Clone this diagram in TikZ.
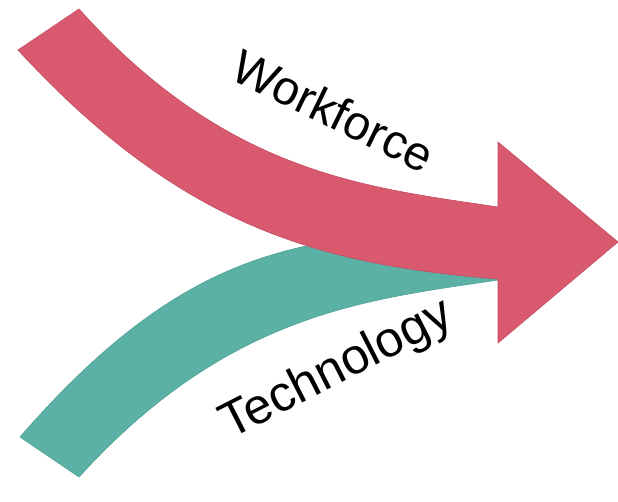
\documentclass[tikz,border=0pt]{standalone}
\usepackage{fontspec}
\setmainfont{Liberation Sans}
\definecolor{arrowred}{HTML}{D95A6E}
\definecolor{arrowredline}{HTML}{C24C61}
\definecolor{arrowteal}{HTML}{5BB1A6}
\definecolor{arrowtealline}{HTML}{4FA095}
\begin{document}
\begin{tikzpicture}[x=1pt,y=-1pt,
  label text/.style={text=black, inner sep=0pt, anchor=base},
  redband/.style={fill=arrowred, draw=arrowredline, line width=0.6pt, line join=miter},
  tealband/.style={fill=arrowteal, draw=arrowtealline, line width=0.6pt}]
\fill[white] (0,0) rectangle (618,501);
\useasboundingbox (0,0) rectangle (618,501);
% teal arrow (underneath)
\path[tealband] (20,437) .. controls (200,230) and (318,240) .. (498,225)
  -- (498,280) .. controls (368,299.5) and (229,312) .. (79,477) -- cycle;
% red arrow
\path[redband] (79,9) .. controls (228,175) and (368,187.5) .. (498,207)
  -- (498,142) -- (618,242) -- (498,343) -- (498,279)
  .. controls (318,264.6) and (180,226) .. (18,50) -- cycle;
% labels
\node[label text, font=\fontsize{48}{52}\selectfont, rotate=-26] (wf) at (326,126) {Workforce};
\node[label text, font=\fontsize{50}{54}\selectfont, rotate=27] (tech) at (343,382) {Technology};
\end{tikzpicture}
\end{document}
